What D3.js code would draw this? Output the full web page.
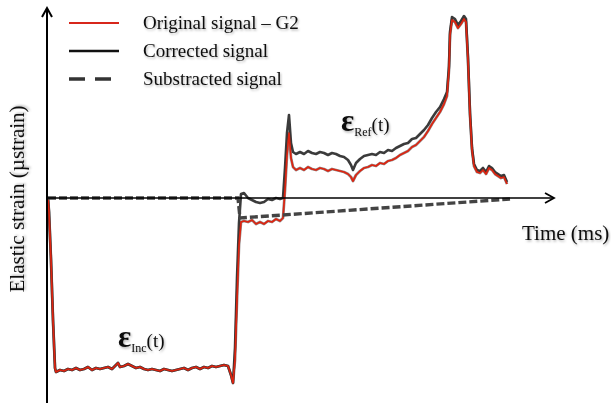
<!DOCTYPE html>
<html>
<head>
<meta charset="utf-8">
<script src="https://cdn.jsdelivr.net/npm/d3@7"></script>
<style>
body { margin: 0; background: #fff; }
text { font-family: "Liberation Serif", "Times New Roman", serif; fill: #111; }
</style>
</head>
<body>
<svg id="chart"></svg>
<script>
// values (time in arbitrary units, strain in arbitrary units)
var timeMs = [0,1,3,5,7,8,12,16,20,24,28,32,36,40,44,48,52,56,60,64,68,70,72,76,80,84,88,92,96,100,104,108,112,116,120,124,128,132,136,140,144,148,152,156,160,164,168,172,176,180,183,185,187,189,191,193,196,200,204,208,212,216,220,224,228,232,235,237,239,241,243,245,248,252,256,260,264,268,272,276,280,284,288,292,296,300,303,305,308,312,316,320,324,328,332,336,340,344,348,352,356,360,364,368,372,376,380,384,388,392,396,399,401,402,404,407,410,413,416,418,420,422,424,426,429,432,435,438,441,444,447,450,453,456,459];

var originalStrain = [0,-14,-62,-122,-170,-174,-172,-173,-171,-172,-170,-172,-171,-169,-172,-170,-171,-170,-169,-171,-167,-165,-169,-168,-166,-168,-170,-169,-171,-172,-171,-172,-173,-171,-172,-173,-172,-171,-170,-172,-170,-169,-171,-169,-170,-168,-169,-168,-167,-168,-177,-185,-162,-102,-47,-24,-23,-24,-22,-26,-24,-26,-23,-24,-21,-23,-20,8,43,65,40,31,28,30,28,31,29,28,30,29,27,29,28,27,26,24,21,17,23,27,30,31,33,32,35,34,37,38,40,43,45,47,51,53,57,61,67,74,80,86,94,102,128,163,178,176,170,174,179,176,138,83,48,32,26,25,28,24,30,28,24,22,20,21,14];

// corrected signal: same as original over the incident wave, then shifted
var correctedStrain = originalStrain.slice(0, 50).concat([-177,-185,-150,-80,-25,4,5,0,-2,-4,-5,-4,-1,-2,0,-1,0,30,65,83,55,46,44,46,44,47,45,44,46,45,43,45,44,42,41,38,33,28,35,39,42,43,44,43,46,45,48,47,50,52,54,55,59,60,64,68,73,80,86,91,99,106,132,166,181,179,173,177,182,179,140,85,50,34,28,27,30,26,32,30,26,24,22,23,16]);

var subTime = [0, 190, 192, 462];
var subStrain = [0, 0, -20, -1];

var legendLabels = ["Original signal \u2013 G2", "Corrected signal", "Substracted signal"];

var width = 611, height = 403;

var svg = d3.select("#chart")
    .attr("width", width)
    .attr("height", height);

var defs = svg.append("defs");
var shadow = defs.append("filter").attr("id", "soft").attr("x", "-10%").attr("y", "-30%").attr("width", "130%").attr("height", "170%");
shadow.append("feDropShadow").attr("dx", 1).attr("dy", 1.5).attr("stdDeviation", 1).attr("flood-color", "#000").attr("flood-opacity", 0.3);

var x = d3.scaleLinear().domain([0, 507]).range([48, 555]);
var y = d3.scaleLinear().domain([-202, 190]).range([400, 8]);

var line = d3.line()
    .x(function (d) { return x(d[0]); })
    .y(function (d) { return y(d[1]); });

var orig = timeMs.map(function (t, i) { return [t, originalStrain[i]]; });
var corr = timeMs.map(function (t, i) { return [t, correctedStrain[i]]; });
var sub = subTime.map(function (t, i) { return [t, subStrain[i]]; });

// corrected (black)
svg.append("path").attr("d", line(corr))
    .attr("fill", "none").attr("stroke", "#262626").attr("stroke-width", 2.6)
    .attr("stroke-linejoin", "round").attr("opacity", 0.9);

// original (red, with a dark edge)
svg.append("path").attr("d", line(orig))
    .attr("fill", "none").attr("stroke", "#3a2a2a").attr("stroke-width", 2.8)
    .attr("stroke-linejoin", "round").attr("opacity", 0.55);
svg.append("path").attr("d", line(orig))
    .attr("fill", "none").attr("stroke", "#de2410").attr("stroke-width", 1.7)
    .attr("stroke-linejoin", "round");

// substracted (dashed)
svg.append("path").attr("d", line(sub))
    .attr("fill", "none").attr("stroke", "#444").attr("stroke-width", 3.4)
    .attr("stroke-dasharray", "8,3");

// axes with open arrow heads
var x0 = x(0) - 1, yZero = y(0);
svg.append("line").attr("x1", x0).attr("x2", x0).attr("y1", height).attr("y2", 8)
    .attr("stroke", "#000").attr("stroke-width", 2);
svg.append("path").attr("d", "M" + (x0 - 5) + ",17L" + x0 + ",8L" + (x0 + 5) + ",17")
    .attr("fill", "none").attr("stroke", "#000").attr("stroke-width", 2);
svg.append("line").attr("x1", x0).attr("x2", 554).attr("y1", yZero).attr("y2", yZero)
    .attr("stroke", "#000").attr("stroke-width", 1.6);
svg.append("path").attr("d", "M545," + (yZero - 5) + "L554," + yZero + "L545," + (yZero + 5))
    .attr("fill", "none").attr("stroke", "#000").attr("stroke-width", 1.8);

// axis titles
svg.append("text").attr("x", 522).attr("y", 240).attr("font-size", 21)
    .attr("filter", "url(#soft)").text("Time (ms)");
svg.append("text").attr("transform", "translate(24,199)rotate(-90)")
    .attr("text-anchor", "middle").attr("font-size", 21)
    .attr("filter", "url(#soft)").text("Elastic strain (\u00b5strain)");

// epsilon labels
function epsLabel(px, py, sub) {
    var t = svg.append("text").attr("x", px).attr("y", py).attr("filter", "url(#soft)");
    t.append("tspan").attr("font-size", 31).attr("font-weight", "bold").text("\u03b5");
    t.append("tspan").attr("font-size", 12).attr("dy", 5).text(sub);
    t.append("tspan").attr("font-size", 19).attr("dy", -5).text("(t)");
}
epsLabel(341, 131, "Ref");
epsLabel(118, 347, "Inc");

// legend
var legend = svg.append("g");
var rowY = [23, 51, 79];
var legendStyles = [
    { color: "#d7261b", width: 2.2, dash: null },
    { color: "#111", width: 2.6, dash: null },
    { color: "#333", width: 3.6, dash: "16,10" }
];
legendLabels.forEach(function (lab, i) {
    legend.append("line").attr("x1", 69).attr("x2", 119).attr("y1", rowY[i]).attr("y2", rowY[i])
        .attr("stroke", legendStyles[i].color).attr("stroke-width", legendStyles[i].width)
        .attr("stroke-dasharray", legendStyles[i].dash);
    legend.append("text").attr("x", 143).attr("y", rowY[i] + 6).attr("font-size", 19)
        .attr("filter", "url(#soft)").text(lab);
});
</script>
</body>
</html>
